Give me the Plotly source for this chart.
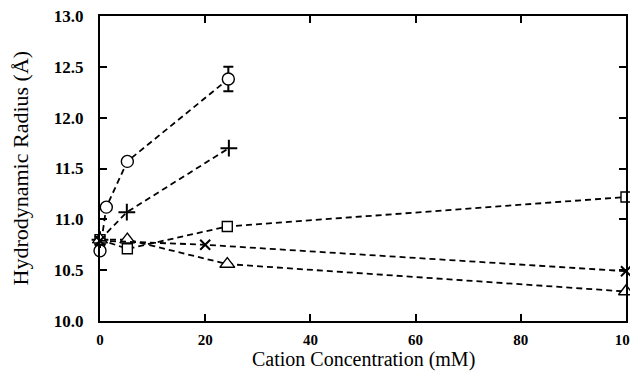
import plotly.graph_objects as go

# Data (x in mM, y in Angstrom)
circ_x = [0, 1.2, 5.2, 24.4]
circ_y = [10.69, 11.12, 11.57, 12.38]
circ_err_x = [24.4]
circ_err_y = [12.38]
circ_err = [0.12]

plus_x = [0, 5.1, 24.5]
plus_y = [10.80, 11.07, 11.70]

sq_x = [0, 5.2, 24.2, 100]
sq_y = [10.80, 10.71, 10.93, 11.22]

tri_x = [0, 5.2, 24.2, 100]
tri_y = [10.80, 10.80, 10.56, 10.29]

x_x = [0, 20, 100]
x_y = [10.79, 10.75, 10.49]

x_ticks = [0, 20, 40, 60, 80, 100]
y_ticks = [10.0, 10.5, 11.0, 11.5, 12.0, 12.5, 13.0]

x_title = "Cation Concentration (mM)"
y_title = "Hydrodynamic Radius (Å)"

FONT = "Liberation Serif"
line = dict(color="black", width=1.8, dash="6px,4px")

fig = go.Figure()

def add(x, y, symbol, size, filled=True):
    if filled:
        marker = dict(symbol=symbol, size=size, color="white",
                      line=dict(color="black", width=1.4))
    else:
        marker = dict(symbol=symbol, size=size, color="black",
                      line=dict(color="black", width=2))
    fig.add_trace(go.Scatter(x=x, y=y, mode="lines+markers", line=line,
                             marker=marker, cliponaxis=False, showlegend=False))

# error bar on the last circle point
fig.add_trace(go.Scatter(x=circ_err_x, y=circ_err_y, mode="markers",
                         marker=dict(size=1, color="rgba(0,0,0,0)"),
                         error_y=dict(type="data", array=circ_err, visible=True,
                                      color="black", thickness=2, width=5),
                         cliponaxis=False, showlegend=False))
add(circ_x, circ_y, "circle", 12)
add(plus_x, plus_y, "cross-thin-open", 12, filled=False)
add(sq_x, sq_y, "square", 10)
add(tri_x, tri_y, "triangle-up", 13)
add(x_x, x_y, "x-thin-open", 10, filled=False)

axis_common = dict(showline=True, linecolor="black", linewidth=2, mirror="ticks",
                   ticks="inside", ticklen=7, tickwidth=1.5, tickcolor="black",
                   showgrid=False, zeroline=False, automargin=False,
                   ticklabeloverflow="allow")

fig.update_xaxes(range=[0, 100], tickvals=x_ticks,
                 ticktext=[str(v) for v in x_ticks],
                 tickfont=dict(family=FONT, size=15, color="black", weight="bold"),
                 ticklabelstandoff=4,
                 **axis_common)
fig.update_yaxes(range=[10, 13], tickvals=y_ticks,
                 ticktext=["%.1f" % v for v in y_ticks],
                 tickfont=dict(family=FONT, size=17, color="black", weight="bold"),
                 ticklabelstandoff=11,
                 **axis_common)

# axis titles as annotations (exact placement, no margin pushing)
fig.add_annotation(text=x_title, xref="paper", yref="paper", x=0.5, y=0,
                   xanchor="center", yanchor="middle", yshift=-38,
                   showarrow=False, font=dict(family=FONT, size=20, color="black"))
fig.add_annotation(text=y_title, xref="paper", yref="paper", x=0, y=0.5,
                   xanchor="center", yanchor="middle", xshift=-80, textangle=-90,
                   showarrow=False, font=dict(family=FONT, size=22, color="black"))

# page body adds an 8px margin, so the figure is 8px smaller on each axis
fig.update_layout(width=630, height=364,
                  margin=dict(l=92, r=12, t=8, b=51),
                  plot_bgcolor="white", paper_bgcolor="white")

fig.write_html("out.html")
